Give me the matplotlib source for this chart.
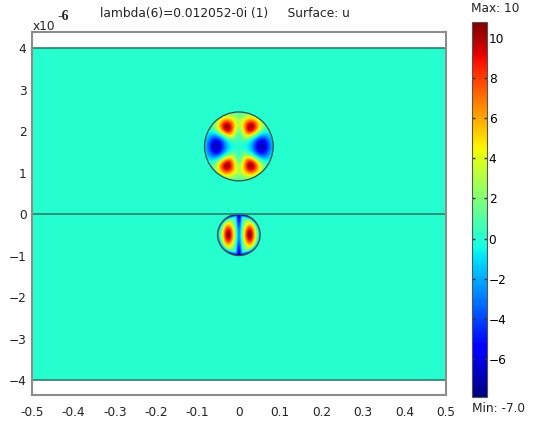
import matplotlib
matplotlib.use("Agg")
import matplotlib.pyplot as plt
import numpy as np
from matplotlib.patches import Ellipse
from matplotlib.colors import ListedColormap

# axis ticks
x_ticks = [-0.5, -0.4, -0.3, -0.2, -0.1, 0, 0.1, 0.2, 0.3, 0.4, 0.5]
x_labels = ["-0.5", "-0.4", "-0.3", "-0.2", "-0.1", "0", "0.1", "0.2", "0.3", "0.4", "0.5"]
y_ticks = [-4, -3, -2, -1, 0, 1, 2, 3, 4]
cbar_ticks = [-6, -4, -2, 0, 2, 4, 6, 8, 10]

# domain (x in plot units, y in 1e-6)
domain_x = [-0.5, 0.5]
domain_y = [-4.0, 4.0]
interface_y = 0.0

# waveguide cores: centre x, centre y, radius along x, radius along y
upper_core = [0.0, 1.63, 0.083, 0.83]
lower_core = [0.0, -0.50, 0.0515, 0.50]

# colour range of the surface plot
u_min, u_max = -7.9, 10.8

# lobes of the mode in the upper core: (angle deg, radius, amplitude)
upper_lobe_angle = [58, 122, 238, 302, 0, 180]
upper_lobe_radius = [0.66, 0.66, 0.66, 0.66, 0.66, 0.66]
upper_lobe_amp = [10.6, 10.6, 10.6, 10.6, -7.0, -7.0]

# lobes of the mode in the lower core: (u, v, amplitude)
lower_lobe_u = [-0.5, 0.5]
lower_lobe_v = [0.0, 0.0]
lower_lobe_amp = [10.6, 10.6]
lower_neg_amp = -7.9

# ---- surface u on a grid ----
gx = np.linspace(domain_x[0], domain_x[1], 900)
gy = np.linspace(domain_y[0], domain_y[1], 1400)
X, Y = np.meshgrid(gx, gy)
U = np.zeros_like(X)

cx, cy, rx, ry = upper_core
a = (X - cx) / rx
b = (Y - cy) / ry
r = np.hypot(a, b)
th = np.arctan2(b, a)
f = np.zeros_like(X)
for ang, r0, amp in zip(upper_lobe_angle, upper_lobe_radius, upper_lobe_amp):
    d = np.angle(np.exp(1j * (th - np.deg2rad(ang))))
    sr, st = (0.21, 0.19) if amp > 0 else (0.19, 0.26)
    f += amp * np.exp(-(r - r0) ** 2 / (2 * sr ** 2) - (d * r0) ** 2 / (2 * st ** 2))
U = np.where(r <= 1, f, U)

cx, cy, rx, ry = lower_core
a = (X - cx) / rx
b = (Y - cy) / ry
r = np.hypot(a, b)
f = np.zeros_like(X)
for u0, v0, amp in zip(lower_lobe_u, lower_lobe_v, lower_lobe_amp):
    f += amp * np.exp(-(a - u0) ** 2 / (2 * 0.2 ** 2) - (b - v0) ** 2 / (2 * 0.42 ** 2))
neg = np.maximum(np.exp(-a ** 2 / (2 * 0.08 ** 2)) * (0.45 + 0.55 * b ** 2),
                 np.exp(-(1 - r) ** 2 / (2 * 0.07 ** 2)) * (0.35 + 0.65 * b ** 2))
f += lower_neg_amp * neg
U = np.where(r <= 1, f, U)

# jet, shifted a little so that zero comes out aquamarine as in COMSOL
z0 = -u_min / (u_max - u_min)
t = np.linspace(0, 1, 512)
warp = np.where(t < z0, t * 0.395 / z0, 0.395 + (t - z0) * 0.605 / (1 - z0))
cmap = ListedColormap(plt.get_cmap("jet")(warp))

# ---- figure ----
fig = plt.figure(figsize=(5.39, 4.21), dpi=100)
W, H = 539, 421
ax = fig.add_axes([32 / W, 1 - 395 / H, (445.7 - 32) / W, (395 - 32.3) / H])

im = ax.imshow(U, extent=[domain_x[0], domain_x[1], domain_y[0], domain_y[1]],
               origin="lower", aspect="auto", cmap=cmap, vmin=u_min, vmax=u_max,
               interpolation="bilinear")

edge = "#2f7d6c"
ax.plot(domain_x, [interface_y, interface_y], color=edge, lw=1.2)
ax.plot(domain_x, [domain_y[1], domain_y[1]], color=edge, lw=1.2)
ax.plot(domain_x, [domain_y[0], domain_y[0]], color=edge, lw=1.2)
for cx, cy, rx, ry in [upper_core, lower_core]:
    ax.add_patch(Ellipse((cx, cy), 2 * rx, 2 * ry, fill=False, edgecolor="#2b4f48", lw=0.9))

ax.set_xlim(-0.5, 0.5)
ax.set_ylim(-4.36, 4.38)
ax.set_xticks(x_ticks)
ax.set_xticklabels(x_labels)
ax.set_yticks(y_ticks)
ax.tick_params(length=0, labelsize=8.7, colors="#222222")
ax.tick_params(axis="x", pad=8)
ax.tick_params(axis="y", pad=4)
for s in ax.spines.values():
    s.set_color("#8c8c8c")
    s.set_linewidth(1.5)

# colour bar
cax = fig.add_axes([472.3 / W, 1 - 396.7 / H, 15 / W, (396.7 - 22.3) / H])
cb = fig.colorbar(im, cax=cax, ticks=cbar_ticks)
cb.outline.set_edgecolor("#555555")
cb.outline.set_linewidth(0.8)
cax.tick_params(direction="in", length=2.5, width=1, color="#333333", labelsize=8.7, pad=1, left=True)

# texts
fig.text(225 / W, 1 - 14 / H, "lambda(6)=0.012052-0i (1)     Surface: u",
         ha="center", va="center", fontsize=8.8, color="#222222")
fig.text(33 / W, 1 - 26 / H, "x10", ha="left", va="center", fontsize=8.7, color="#222222")
fig.text(58 / W, 1 - 16 / H, "-6", ha="left", va="center", fontsize=10, weight="bold",
         family="Liberation Serif", color="#222222")
fig.text(471 / W, 1 - 8 / H, "Max: 10", ha="left", va="center", fontsize=8.7, color="#222222")
fig.text(472 / W, 1 - 408 / H, "Min: -7.0", ha="left", va="center", fontsize=8.7, color="#222222")

fig.savefig("out.png", dpi=100)
